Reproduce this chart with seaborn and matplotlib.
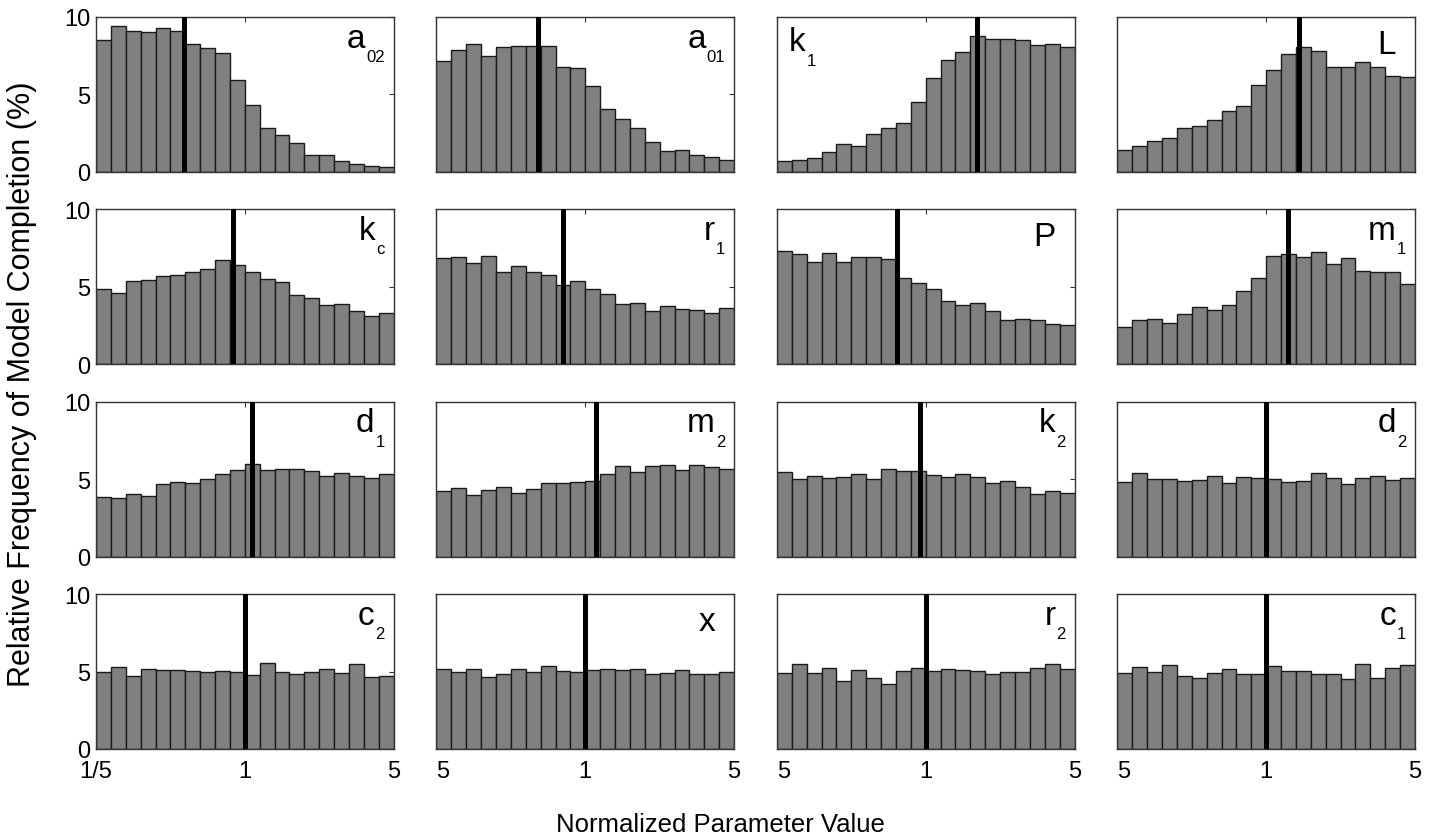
import numpy as np
import matplotlib
matplotlib.use("Agg")
import matplotlib.pyplot as plt
from matplotlib.ticker import NullLocator
import seaborn as sns

# ---------------- data ----------------
x_min, x_max = 0.2, 5.0
n_bins = 20

freq_a02 = [8.5, 9.4, 9.1, 9.05, 9.27, 9.1, 8.24, 8.0, 7.68, 5.96,
            4.34, 2.84, 2.41, 1.87, 1.12, 1.08, 0.73, 0.49, 0.39, 0.3]
freq_a01 = [7.16, 7.89, 8.28, 7.46, 8.06, 8.1, 8.1, 8.1, 6.8, 6.69,
            5.53, 4.04, 3.4, 2.86, 1.96, 1.38, 1.4, 1.1, 0.95, 0.75]
freq_k1 = [0.69, 0.77, 0.92, 1.27, 1.78, 1.68, 2.43, 2.84, 3.14, 4.52,
           6.09, 7.2, 7.74, 8.75, 8.56, 8.58, 8.54, 8.19, 8.24, 8.06]
freq_L = [1.4, 1.7, 2.02, 2.22, 2.84, 2.95, 3.38, 3.94, 4.26, 5.59,
          6.6, 7.59, 8.06, 7.81, 6.77, 6.75, 7.08, 6.77, 6.17, 6.13]
freq_kc = [4.86, 4.58, 5.38, 5.46, 5.68, 5.78, 5.94, 6.17, 6.73, 6.43,
           5.98, 5.48, 5.33, 4.49, 4.28, 3.81, 3.92, 3.43, 3.12, 3.29]
freq_r1 = [6.86, 6.92, 6.56, 6.97, 5.94, 6.34, 5.96, 5.74, 5.12, 5.38,
           4.84, 4.54, 3.89, 3.98, 3.42, 3.75, 3.55, 3.5, 3.3, 3.62]
freq_P = [7.31, 7.14, 6.62, 7.18, 6.62, 6.9, 6.92, 6.8, 5.57, 5.23,
          4.84, 4.06, 3.83, 3.96, 3.44, 2.86, 2.9, 2.88, 2.62, 2.56]
freq_m1 = [2.39, 2.86, 2.92, 2.69, 3.25, 3.7, 3.48, 3.81, 4.71, 5.55,
           6.99, 7.12, 6.95, 7.25, 6.49, 6.84, 6.02, 5.94, 5.98, 5.18]
freq_d1 = [3.84, 3.78, 4.06, 3.91, 4.67, 4.82, 4.73, 5.03, 5.36, 5.62,
           5.96, 5.62, 5.64, 5.64, 5.51, 5.18, 5.38, 5.18, 5.08, 5.33]
freq_m2 = [4.21, 4.41, 3.95, 4.28, 4.51, 4.1, 4.36, 4.73, 4.73, 4.84,
           4.86, 5.33, 5.85, 5.44, 5.83, 5.94, 5.57, 5.9, 5.8, 5.65]
freq_k2 = [5.44, 4.99, 5.21, 5.08, 5.14, 5.36, 5.03, 5.68, 5.53, 5.51,
           5.27, 5.16, 5.34, 5.12, 4.77, 4.88, 4.51, 4.06, 4.23, 4.12]
freq_d2 = [4.82, 5.4, 4.99, 4.99, 4.9, 4.97, 5.23, 4.73, 5.14, 5.05,
           5.03, 4.8, 4.88, 5.38, 5.08, 4.71, 5.05, 5.18, 4.95, 5.08]
freq_c2 = [4.95, 5.27, 4.71, 5.14, 5.08, 5.12, 5.03, 4.99, 5.03, 4.99,
           4.77, 5.57, 4.99, 4.84, 4.99, 5.16, 4.88, 5.5, 4.65, 4.73]
freq_x = [5.18, 4.97, 5.14, 4.65, 4.86, 5.18, 4.95, 5.35, 5.01, 4.97,
          5.08, 5.14, 5.1, 5.14, 4.84, 4.88, 5.1, 4.82, 4.85, 4.95]
freq_r2 = [4.92, 5.48, 4.9, 5.25, 4.39, 5.12, 4.56, 4.22, 5.03, 5.23,
           5.03, 5.14, 5.08, 5.03, 4.82, 4.95, 4.97, 5.2, 5.48, 5.18]
freq_c1 = [4.92, 5.31, 4.99, 5.42, 4.71, 4.56, 4.88, 5.16, 4.84, 4.86,
           5.38, 5.01, 5.01, 4.84, 4.84, 4.52, 5.46, 4.6, 5.2, 5.42]

panel_freqs = [freq_a02, freq_a01, freq_k1, freq_L,
               freq_kc, freq_r1, freq_P, freq_m1,
               freq_d1, freq_m2, freq_k2, freq_d2,
               freq_c2, freq_x, freq_r2, freq_c1]
# vertical black marker (normalized value of the best fit)
marker_values = [0.52, 0.60, 1.74, 1.42,
                 0.88, 0.79, 0.73, 1.27,
                 1.08, 1.12, 0.94, 1.0,
                 1.0, 1.0, 1.0, 1.0]
label_main = ["a", "a", "k", "L", "k", "r", "P", "m",
              "d", "m", "k", "d", "c", "x", "r", "c"]
label_sub = ["02", "01", "1", "", "c", "1", "", "1",
             "1", "2", "2", "2", "2", "", "2", "1"]
label_on_left = [False, False, True, False] + [False] * 12

y_ticks = [0, 5, 10]
x_ticks = [0.2, 1, 5]
x_ticklabels_first = ["1/5", "1", "5"]
x_ticklabels_other = ["5", "1", "5"]

x_axis_label = "Normalized Parameter Value"
y_axis_label = "Relative Frequency of Model Completion (%)"

# ---------------- style ----------------
sns.set_theme(style="white")
plt.rcParams['font.family'] = ['Liberation Sans', 'DejaVu Sans']
plt.rcParams['text.color'] = 'black'
plt.rcParams['xtick.labelcolor'] = 'black'
plt.rcParams['ytick.labelcolor'] = 'black'
plt.rcParams['axes.edgecolor'] = '#333333'
plt.rcParams['axes.linewidth'] = 1.0

W, H = 1437, 837
fig, axes = plt.subplots(4, 4, figsize=(W / 100, H / 100), dpi=100)
fig.subplots_adjust(left=96 / W, right=1415 / W, top=1 - 18 / H,
                    bottom=1 - 750 / H, wspace=0.1443, hspace=0.242)

bar_color = "#808080"
edge_color = "#1a1a1a"

for i, ax in enumerate(axes.flat):
    row, col = divmod(i, 4)
    vals = panel_freqs[i]
    log_edges = np.linspace(np.log10(x_min), np.log10(x_max), n_bins + 1)
    centers = 10 ** ((log_edges[:-1] + log_edges[1:]) / 2)
    sns.histplot(x=centers, weights=vals, bins=n_bins,
                 binrange=(np.log10(x_min), np.log10(x_max)),
                 log_scale=True, stat="count", ax=ax,
                 color=bar_color, edgecolor=edge_color, linewidth=1.0,
                 alpha=1.0)
    ax.axvline(marker_values[i], color="black", lw=3.6, zorder=5)
    ax.set_xlim(x_min, x_max)
    ax.set_ylim(0, 10)
    ax.set_xlabel("")
    ax.set_ylabel("")
    ax.xaxis.set_minor_locator(NullLocator())
    ax.set_yticks(y_ticks)
    ax.tick_params(direction="in", top=True, right=True, length=3.5,
                   width=0.8, color="#333333", labelsize=17)
    ax.tick_params(axis="y", pad=4)
    ax.tick_params(axis="x", pad=8)
    if col == 0:
        ax.set_yticklabels([str(t) for t in y_ticks])
    else:
        ax.set_yticklabels([])
    if row == 3:
        labs = x_ticklabels_first if col == 0 else x_ticklabels_other
        ax.set_xticks(x_ticks, labels=labs)
        if col > 0:
            ax.get_xticklabels()[0].set_horizontalalignment("left")
    else:
        ax.set_xticks(x_ticks, labels=["", "", ""])
    for sp in ax.spines.values():
        sp.set_visible(True)
        sp.set_color("#333333")
        sp.set_linewidth(1.0)

    # panel label with MATLAB-like subscript
    main, sub = label_main[i], label_sub[i]
    aw, ah = 298.0, 155.0
    if label_on_left[i]:
        t = ax.text(12 / aw, 1 - 33 / ah, main, transform=ax.transAxes,
                    ha="left", va="baseline", fontsize=24, zorder=6)
        if sub:
            ax.annotate(sub, xy=(1, 0), xycoords=t, xytext=(0.5, -6),
                        textcoords="offset points", ha="left",
                        va="baseline", fontsize=12, zorder=6)
    elif sub:
        s = ax.text(1 - 9 / aw, 1 - 44 / ah, sub, transform=ax.transAxes,
                    ha="right", va="baseline", fontsize=12, zorder=6)
        ax.annotate(main, xy=(0, 0), xycoords=s, xytext=(-0.5, 12.5),
                    textcoords="offset points", ha="right",
                    va="baseline", fontsize=24, zorder=6)
    else:
        ax.text(1 - 19 / aw, 1 - 36 / ah, main, transform=ax.transAxes,
                ha="right", va="baseline", fontsize=24, zorder=6)

fig.text(720 / W, 1 - 832 / H, x_axis_label, ha="center", va="baseline",
         fontsize=18.5)
fig.text(22 / W, 1 - 384 / H, y_axis_label, ha="center", va="center",
         rotation=90, fontsize=22)

fig.savefig("out.png", dpi=100, facecolor="white")
